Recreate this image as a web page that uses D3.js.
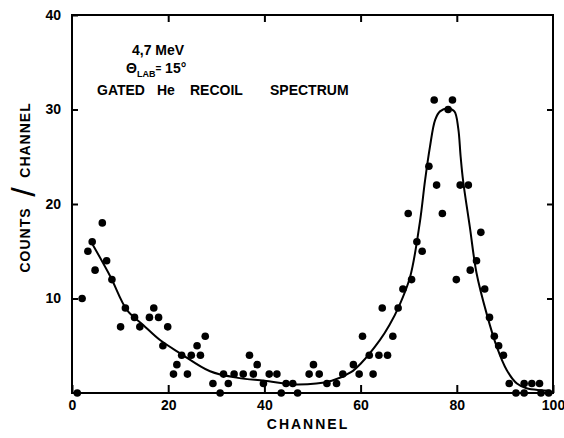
<!DOCTYPE html>
<html>
<head>
<meta charset="utf-8">
<script src="https://cdn.jsdelivr.net/npm/d3@7"></script>
<style>
  body { margin: 0; background: #fff; }
  text { font-family: "Liberation Sans", Arial, sans-serif; fill: #000; }
</style>
</head>
<body>
<div id="myPlot"></div>
<script>
const channels = [1.1, 2.1, 3.3, 4.2, 4.8, 6.3, 7.2, 8.3, 10.1, 11.1, 13, 14.1, 16.1, 17, 18, 18.9, 19.9,
  21.1, 21.8, 22.8, 24, 24.8, 26, 26.7, 27.7, 29.3, 30.8, 31.5, 32.5, 33.7, 35.6, 36.9, 37.7, 38.5, 39.8,
  41, 42.6, 43.5, 44.5, 45.9, 46.9, 49.3, 50.2, 51.4, 53, 55, 56.3, 58.5, 59.7, 60.4, 61.8, 62.6, 63.8,
  64.5, 65.6, 66.7, 67.8, 68.8, 69.9, 70.6, 71.7, 72.8, 74.2, 75.3, 75.8, 77, 78.2, 79.1, 79.9, 80.7,
  82.4, 82.8, 84.1, 85, 85.8, 86.8, 87.8, 88.7, 89.7, 90.9, 92.3, 94, 94, 95.6, 97.2, 97.5, 99.1];
const counts = [0, 10, 15, 16, 13, 18, 14, 12, 7, 9, 8, 7, 8, 9, 8, 5, 7,
  2, 3, 4, 2, 4, 5, 4, 6, 1, 0, 2, 1, 2, 2, 4, 2, 3, 1,
  2, 2, 0, 1, 1, 0, 2, 3, 2, 1, 1, 2, 3, 2, 6, 4, 2, 4,
  9, 4, 6, 9, 11, 19, 12, 16, 15, 24, 31, 22, 19, 30, 31, 12, 22,
  22, 13, 14, 17, 11, 8, 6, 5, 4, 1, 0, 1, 0, 1, 1, 0, 0];

// Fitted curve
const fitChannels = [4.2, 8, 11.4, 14.8, 18.3, 22.5, 28.7, 34.5, 40, 47, 54, 58, 60, 64, 66, 68, 70.3,
  72.3, 73.4, 74.4, 75.5, 76.5, 78.2, 79.5, 80.3, 80.8, 81.3, 82.7, 84.1, 86.2, 88.3, 90.4, 92.5,
  94.5, 97.3, 99.4];
const fitCounts = [15.8, 12.3, 8.8, 7.2, 5.6, 4.2, 2.3, 1.6, 1.3, 0.9, 1.3, 2.2, 3.1, 5.6, 7.2, 9.2, 12.3,
  18, 22.5, 26, 28.9, 29.8, 30.1, 29.8, 28, 25, 22.5, 17.6, 12.7, 8.4, 4.9, 2.4, 1.0,
  0.5, 0.3, 0.25];

const xTicks = [0, 20, 40, 60, 80, 100];
const yTicks = [10, 20, 30, 40];

const W = 564, H = 438;
const mLeft = 72, mRight = 553, mTop = 15, mBottom = 393;

const svg = d3.select("#myPlot").append("svg")
  .attr("width", W).attr("height", H);

const x = d3.scaleLinear().domain([0, 100]).range([mLeft, mRight]);
const y = d3.scaleLinear().domain([0, 40]).range([mBottom, mTop]);

// bottom axis, ticks pointing inward
const xAxis = svg.append("g")
  .attr("transform", "translate(0," + mBottom + ")")
  .call(d3.axisBottom(x).tickValues(xTicks).tickSize(-8).tickPadding(7).tickFormat(d3.format("d")));
xAxis.selectAll("text").attr("font-size", 14).attr("font-weight", "bold");

// top ticks
svg.append("g")
  .attr("transform", "translate(0," + mTop + ")")
  .call(d3.axisTop(x).tickValues([20, 40, 60, 80]).tickSize(-7).tickFormat(""));

// left axis
const yAxis = svg.append("g")
  .attr("transform", "translate(" + mLeft + ",0)")
  .call(d3.axisLeft(y).tickValues(yTicks).tickSize(-6).tickPadding(11));
yAxis.selectAll("text").attr("font-size", 14).attr("font-weight", "bold");

// right ticks
svg.append("g")
  .attr("transform", "translate(" + mRight + ",0)")
  .call(d3.axisRight(y).tickValues([10, 20, 30]).tickSize(-6).tickFormat(""));

svg.selectAll(".domain").remove();
svg.selectAll(".tick line").attr("stroke", "#000").attr("stroke-width", 2);

// frame
svg.append("rect")
  .attr("x", mLeft).attr("y", mTop)
  .attr("width", mRight - mLeft).attr("height", mBottom - mTop)
  .attr("fill", "none").attr("stroke", "#000").attr("stroke-width", 2);

// fit curve
const fit = fitChannels.map((c, i) => [c, fitCounts[i]]);
svg.append("path")
  .datum(fit)
  .attr("fill", "none")
  .attr("stroke", "#000")
  .attr("stroke-width", 2)
  .attr("d", d3.line().x(d => x(d[0])).y(d => y(d[1])).curve(d3.curveCatmullRom));

// dots
svg.append("g")
  .selectAll("circle")
  .data(channels.map((c, i) => [c, counts[i]]))
  .enter().append("circle")
  .attr("cx", d => x(d[0]))
  .attr("cy", d => y(d[1]))
  .attr("r", 3.8)
  .attr("fill", "#000");

// axis titles
svg.append("text")
  .attr("x", 308).attr("y", 429)
  .attr("text-anchor", "middle")
  .attr("font-size", 14).attr("font-weight", "bold")
  .attr("letter-spacing", 2)
  .text("CHANNEL");

const yt = svg.append("g").attr("transform", "translate(30,192) rotate(-90)");
yt.append("text").attr("x", -48).attr("y", 0).attr("text-anchor", "middle")
  .attr("font-size", 14).attr("font-weight", "bold").attr("letter-spacing", 1).text("COUNTS");
yt.append("text").attr("x", 0).attr("y", 5).attr("text-anchor", "middle")
  .attr("font-size", 34).attr("font-weight", "normal").text("/");
yt.append("text").attr("x", 52).attr("y", 0).attr("text-anchor", "middle")
  .attr("font-size", 14).attr("font-weight", "bold").attr("letter-spacing", 1).text("CHANNEL");

// annotations
svg.append("text").attr("x", 132).attr("y", 55)
  .attr("font-size", 14).attr("font-weight", "bold").text("4,7 MeV");

const th = svg.append("text").attr("x", 126).attr("y", 73)
  .attr("font-size", 14).attr("font-weight", "bold");
th.append("tspan").text("Θ");
th.append("tspan").attr("font-size", 9).attr("dy", 4).text("LAB");
th.append("tspan").attr("font-size", 10).attr("dy", -5).text("=");
th.append("tspan").attr("font-size", 14).attr("dy", 1).text(" 15°");

const words = ["GATED", "He", "RECOIL", "SPECTRUM"];
const wordX = [97, 157, 190, 270];
svg.append("g").selectAll("text")
  .data(words).enter().append("text")
  .attr("x", (d, i) => wordX[i]).attr("y", 95)
  .attr("font-size", 14).attr("font-weight", "bold")
  .text(d => d);
</script>
</body>
</html>
